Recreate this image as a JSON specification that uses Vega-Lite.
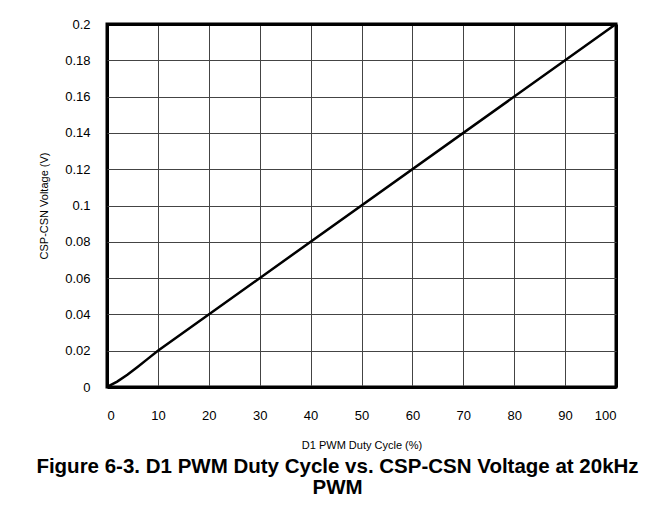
{
  "$schema": "https://vega.github.io/schema/vega-lite/v6.json",
  "width": 509,
  "height": 363,
  "autosize": {"type": "none"},
  "padding": {"left": 107, "top": 24, "right": 45, "bottom": 132},
  "background": "white",
  "title": {
    "text": ["Figure 6-3. D1 PWM Duty Cycle vs. CSP-CSN Voltage at 20kHz", "PWM"],
    "orient": "bottom",
    "anchor": "middle",
    "dx": -24,
    "offset": 7,
    "font": "Liberation Sans",
    "fontSize": 20.5,
    "fontWeight": "bold",
    "color": "black",
    "lineHeight": 21
  },
  "data": {
    "values": [
      {"duty": 0, "v": 0},
      {"duty": 2, "v": 0.003},
      {"duty": 4, "v": 0.0067},
      {"duty": 6, "v": 0.011},
      {"duty": 8, "v": 0.0155},
      {"duty": 10, "v": 0.02},
      {"duty": 100, "v": 0.2}
    ]
  },
  "mark": {"type": "line", "color": "black", "strokeWidth": 2.5, "clip": true},
  "encoding": {
    "x": {
      "field": "duty",
      "type": "quantitative",
      "scale": {"domain": [0, 100], "nice": false},
      "axis": {
        "title": "D1 PWM Duty Cycle (%)",
        "values": [0, 10, 20, 30, 40, 50, 60, 70, 80, 90, 100],
        "titlePadding": 17,
        "labelPadding": 22,
        "gridColor": {"condition": {"test": "datum.value === 0 || datum.value === 100", "value": "black"}, "value": "#444444"},
        "gridWidth": {"condition": {"test": "datum.value === 0 || datum.value === 100", "value": 3}, "value": 1}
      }
    },
    "y": {
      "field": "v",
      "type": "quantitative",
      "scale": {"domain": [0, 0.2], "nice": false},
      "axis": {
        "title": "CSP-CSN Voltage (V)",
        "values": [0, 0.02, 0.04, 0.06, 0.08, 0.1, 0.12, 0.14, 0.16, 0.18, 0.2],
        "format": "~g",
        "titlePadding": 15,
        "labelPadding": 17,
        "gridColor": {"condition": {"test": "datum.value === 0 || datum.value === 0.2", "value": "black"}, "value": "#444444"},
        "gridWidth": {"condition": {"test": "datum.value === 0 || datum.value === 0.2", "value": 3}, "value": 1}
      }
    }
  },
  "config": {
    "font": "Liberation Sans",
    "view": {"stroke": "black", "strokeWidth": 3},
    "axis": {
      "domain": false,
      "ticks": false,
      "grid": true,
      "gridOpacity": 1,
      "labelFont": "Liberation Sans",
      "labelFontSize": 13,
      "labelColor": "black",
      "titleFont": "Liberation Sans",
      "titleFontSize": 11,
      "titleFontWeight": "normal",
      "titleColor": "black"
    }
  }
}
